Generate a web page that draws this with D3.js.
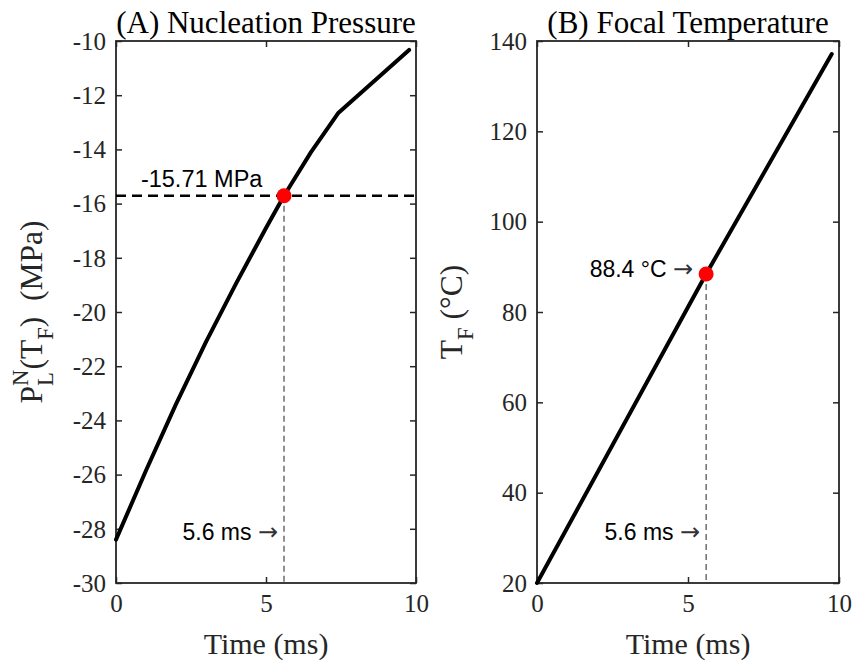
<!DOCTYPE html>
<html>
<head>
<meta charset="utf-8">
<script src="https://cdn.jsdelivr.net/npm/d3@7"></script>
<style>
  html, body { margin: 0; padding: 0; background: #fff; }
  svg { display: block; }
</style>
</head>
<body>
<svg id="chart" width="854" height="664"></svg>
<script>
// ---------- data ----------
const timeA = [0, 1, 2, 3, 4, 5, 5.6, 6.5, 7.4, 9.77];
const pressureA = [-28.4, -25.85, -23.4, -21.1, -18.95, -16.9, -15.71, -14.1, -12.67, -10.33];
const timeB = [0, 5.6, 9.76];
const tempB = [20, 88.4, 137.1];
const xTicks = [0, 5, 10];
const yTicksA = [-30, -28, -26, -24, -22, -20, -18, -16, -14, -12, -10];
const yTicksB = [20, 40, 60, 80, 100, 120, 140];
const markerTime = 5.6;
const markerPressure = -15.71;
const markerTemp = 88.4;
const titles = ["(A) Nucleation Pressure", "(B) Focal Temperature"];
const xLabel = "Time (ms)";

// ---------- setup ----------
const svg = d3.select("#chart");
svg.append("rect").attr("width", 854).attr("height", 664).attr("fill", "#fff");

const serif = "'Liberation Serif', 'Times New Roman', serif";
const sans = "'Liberation Sans', Arial, sans-serif";
const arrowFont = "'DejaVu Sans', sans-serif";
const axisColor = "#262626";
const plotTop = 41, plotBottom = 583;

const panels = [
  { x0: 116, x1: 416, ydom: [-30, -10], yticks: yTicksA, t: timeA, v: pressureA, mv: markerPressure, title: titles[0] },
  { x0: 537, x1: 839, ydom: [20, 140], yticks: yTicksB, t: timeB, v: tempB, mv: markerTemp, title: titles[1] }
];

panels.forEach((p, i) => {
  const x = d3.scaleLinear().domain([0, 10]).range([p.x0, p.x1]);
  const y = d3.scaleLinear().domain(p.ydom).range([plotBottom, plotTop]);
  p.x = x; p.y = y;
  const g = svg.append("g");
  const fmt = d => String(d);

  const left = g.append("g").attr("transform", `translate(${p.x0},0)`)
    .call(d3.axisLeft(y).tickValues(p.yticks).tickFormat(fmt).tickSizeInner(-6).tickSizeOuter(0).tickPadding(10));
  const right = g.append("g").attr("transform", `translate(${p.x1},0)`)
    .call(d3.axisRight(y).tickValues(p.yticks).tickSizeInner(-6).tickSizeOuter(0).tickFormat(""));
  const bot = g.append("g").attr("transform", `translate(0,${plotBottom})`)
    .call(d3.axisBottom(x).tickValues(xTicks).tickFormat(fmt).tickSizeInner(-6).tickSizeOuter(0).tickPadding(12));
  const tp = g.append("g").attr("transform", `translate(0,${plotTop})`)
    .call(d3.axisTop(x).tickValues(xTicks).tickSizeInner(-6).tickSizeOuter(0).tickFormat(""));
  [left, right, bot, tp].forEach(a => {
    a.select(".domain").remove();
    a.selectAll(".tick line").attr("stroke", axisColor).attr("stroke-width", 1.5);
    a.selectAll(".tick text").attr("fill", axisColor).style("font-family", serif).style("font-size", "25px");
  });
  left.selectAll(".tick text").attr("dy", "0.33em");
  bot.selectAll(".tick text").attr("dy", "0.68em");

  g.append("rect").attr("x", p.x0).attr("y", plotTop).attr("width", p.x1 - p.x0).attr("height", plotBottom - plotTop)
    .attr("fill", "none").attr("stroke", axisColor).attr("stroke-width", 1.8);

  g.append("text").attr("x", (p.x0 + p.x1) / 2).attr("y", 33).attr("text-anchor", "middle")
    .style("font-family", serif).style("font-size", "31px").attr("fill", "#000").text(p.title);

  g.append("text").attr("x", (p.x0 + p.x1) / 2).attr("y", 654).attr("text-anchor", "middle")
    .style("font-family", serif).style("font-size", "30px").attr("fill", axisColor).text(xLabel);

  if (i === 0) {
    g.append("line").attr("x1", x(0)).attr("x2", x(10)).attr("y1", y(p.mv)).attr("y2", y(p.mv))
      .attr("stroke", "#000").attr("stroke-width", 2.5).attr("stroke-dasharray", "10,6");
  }
  g.append("line").attr("x1", x(markerTime)).attr("x2", x(markerTime)).attr("y1", y(p.mv)).attr("y2", plotBottom)
    .attr("stroke", "#222").attr("stroke-width", 1).attr("stroke-dasharray", "6,4");

  const line = d3.line().x((d, k) => x(p.t[k])).y((d, k) => y(p.v[k]));
  g.append("path").datum(p.v).attr("d", line).attr("fill", "none").attr("stroke", "#000")
    .attr("stroke-width", 4).attr("stroke-linejoin", "round").attr("stroke-linecap", "round");

  g.append("circle").attr("cx", x(markerTime)).attr("cy", y(p.mv)).attr("r", 7.5).attr("fill", "#ff0000");

  const ta = g.append("text").attr("x", x(markerTime) - 6).attr("y", plotBottom - 43).attr("text-anchor", "end")
    .style("font-family", sans).style("font-size", "23px").attr("fill", "#000");
  ta.append("tspan").text(markerTime + " ms ");
  ta.append("tspan").style("font-family", arrowFont).style("font-size", "24px").attr("fill", "#333").text("\u2192");
});

const pA = panels[0], pB = panels[1];
svg.append("text").attr("x", pA.x(0.83)).attr("y", pA.y(markerPressure) - 9)
  .style("font-family", sans).style("font-size", "23.5px").attr("fill", "#000")
  .text(markerPressure.toFixed(2) + " MPa");
const tb = svg.append("text").attr("x", pB.x(markerTime) - 13).attr("y", pB.y(markerTemp) + 3).attr("text-anchor", "end")
  .style("font-family", sans).style("font-size", "23px").attr("fill", "#000");
tb.append("tspan").text(markerTemp + " \u00b0C ");
tb.append("tspan").style("font-family", arrowFont).style("font-size", "24px").attr("fill", "#333").text("\u2192");

function richLabel(cx, cy, items, fs) {
  const outer = svg.append("g").attr("transform", `translate(${cx},${cy}) rotate(-90)`);
  const g = outer.append("g");
  let cur = 0, stackW = 0;
  items.forEach(it => {
    const size = fs * (it.scale || 1);
    const el = g.append("text").attr("x", cur).attr("y", (it.shift || 0) * fs)
      .style("font-family", serif).style("font-size", size + "px").attr("fill", axisColor)
      .style("white-space", "pre").text(it.text);
    const w = el.node().getComputedTextLength();
    if (it.hold) { stackW = Math.max(stackW, w); }
    else { cur += Math.max(w, stackW); stackW = 0; }
  });
  g.attr("transform", `translate(${-cur / 2},0)`);
}
richLabel(42, (plotTop + plotBottom) / 2, [
  { text: "P" },
  { text: "N", scale: 0.72, shift: -0.45, hold: true },
  { text: "L", scale: 0.72, shift: 0.35 },
  { text: "(T" },
  { text: "F", scale: 0.72, shift: 0.35 },
  { text: ")  (MPa)" }
], 31.5);
richLabel(462, (plotTop + plotBottom) / 2, [
  { text: "T" },
  { text: "F", scale: 0.72, shift: 0.35 },
  { text: " (\u00b0C)" }
], 31.5);
</script>
</body>
</html>
